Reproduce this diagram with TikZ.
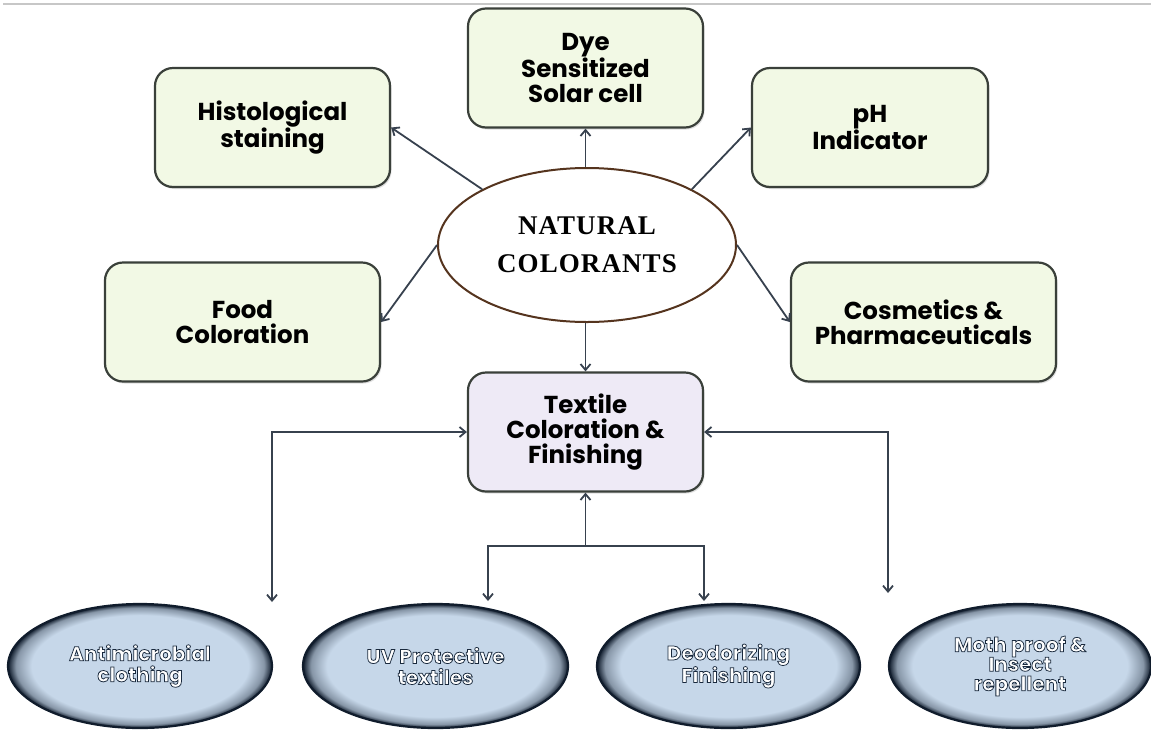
\documentclass[tikz,border=0pt]{standalone}
\usepackage{fontspec}
\setmainfont{Poppins}
\newfontfamily\headfont{Liberation Serif}[LetterSpace=4]
\usetikzlibrary{arrows.meta,shapes.geometric,shadows}
\definecolor{boxgreen}{RGB}{242,249,229}
\definecolor{boxlav}{RGB}{238,234,246}
\definecolor{boxedge}{RGB}{58,64,58}
\definecolor{conn}{RGB}{55,65,78}
\definecolor{ellblue}{RGB}{198,215,233}
\definecolor{navy}{RGB}{16,28,44}
\definecolor{brownedge}{RGB}{85,52,30}
\pgfdeclareradialshading{ellshade}{\pgfpoint{0bp}{0bp}}{color(0bp)=(ellblue); color(20.5bp)=(ellblue); color(23.5bp)=(ellblue!65!navy); color(25bp)=(navy); color(50bp)=(navy)}
\newcommand{\halo}[1]{\special{pdf:literal direct 2 Tr 0.75 w 0.1 0.16 0.24 RG}#1\special{pdf:literal direct 0 Tr}}
\begin{document}
\begin{tikzpicture}[x=1pt,y=-1pt,
  gbox/.style={draw=boxedge, line width=2.2pt, rounded corners=18pt, fill=boxgreen,
    minimum height=119pt, align=center, inner sep=2pt,
    font=\fontsize{24.5}{25}\selectfont\bfseries,
    drop shadow={opacity=0.25, shadow xshift=1.5pt, shadow yshift=-2pt}},
  lbox/.style={gbox, fill=boxlav},
  center ell/.style={ellipse, draw=brownedge, line width=2pt, fill=white,
    minimum width=298pt, minimum height=154pt, inner sep=0pt, align=center,
    font=\headfont\bfseries\fontsize{27}{38}\selectfont},
  bell/.style={ellipse, draw=navy, line width=2.2pt, shading=ellshade,
    minimum height=124pt, inner sep=0pt, align=center, text=white,
    font=\fontsize{20}{21}\selectfont\bfseries},
  conn/.style={draw=conn, line width=1.8pt, -{Straight Barb[length=6pt,width=10pt]}},
  conn2/.style={draw=conn, line width=1.8pt, {Straight Barb[length=6pt,width=10pt]}-{Straight Barb[length=6pt,width=10pt]}}
]
\useasboundingbox (0,0) rectangle (1151,729);
\fill[white] (0,0) rectangle (1151,729);
\draw[black!22, line width=1.5pt] (3,4) -- (1151,4);

\node[gbox, minimum width=235pt] (dye) at (585.5,68) {Dye\\Sensitized\\Solar cell};
\node[gbox, minimum width=235pt] (hist) at (272.5,127.5) {Histological\\staining};
\node[gbox, minimum width=236pt] (ph) at (870,127.5) {pH\\Indicator};
\node[gbox, minimum width=275pt] (food) at (242.5,322) {Food\\Coloration};
\node[gbox, minimum width=265pt] (cosm) at (923.5,322) {Cosmetics \&\\Pharmaceuticals};
\node[center ell] (nat) at (587,245) {NATURAL\\COLORANTS};
\node[lbox, minimum width=235pt] (tex) at (585.5,432) {Textile\\Coloration \&\\Finishing};

\node[bell, minimum width=264pt] (ant) at (140,666) {\halo{Antimicrobial}\\\halo{clothing}};
\node[bell, minimum width=265pt] (uv) at (435.5,666) {\halo{UV Protective}\\\halo{textiles}};
\node[bell, minimum width=263pt] (deo) at (728.5,666) {\halo{Deodorizing}\\\halo{Finishing}};
\node[bell, minimum width=262pt, font=\fontsize{20}{19.5}\selectfont\bfseries] (moth) at (1020,666) {\halo{Moth proof \&}\\\halo{Insect}\\\halo{repellent}};

\draw[conn] (nat.north -| dye) -- (dye.south);
\draw[conn] (nat.152) -- (hist.east);
\draw[conn] (nat.28) -- (ph.west);
\draw[conn] (nat.west) -- (food.east);
\draw[conn] (nat.east) -- (cosm.west);
\draw[conn] (tex.north |- nat.south) -- (tex.north);

\coordinate (lb) at (272,602);
\coordinate (rb) at (888,593);
\coordinate (jn) at (585.5,546);
\coordinate (cl) at (488,601);
\coordinate (cr) at (704,601);
\draw[conn2] (lb) |- (tex.west);
\draw[conn2] (rb) |- (tex.east);
\draw[conn] (jn) -- (tex.south);
\draw[conn2] (cl) |- (jn) -| (cr);
\end{tikzpicture}
\end{document}
